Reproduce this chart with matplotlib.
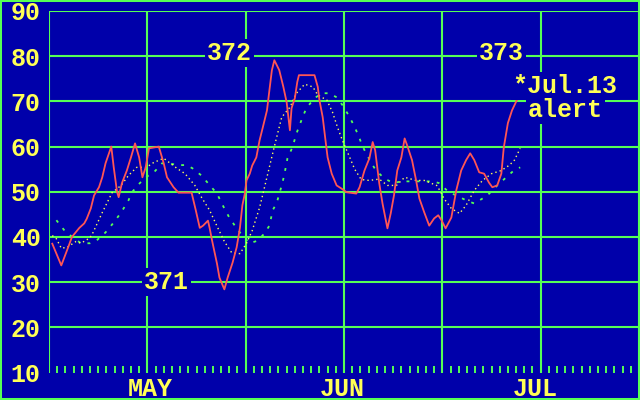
import matplotlib
matplotlib.use("Agg")
import matplotlib.pyplot as plt
from matplotlib.patches import Rectangle

BG = "#0000aa"
GREEN = "#55ff55"
YELLOW = "#ffff55"
RED = "#ff5555"

# ---- data (x in trading-day index, y in price units) ----
red_x = [0.4, 1.5, 2.4, 2.8, 3.7, 4.3, 4.6, 5.1, 5.5, 6.1, 6.5, 6.9, 7.6, 7.9, 8.3, 8.5,
         8.9, 9.5, 10.0, 10.5, 11.0, 11.4, 11.8, 12.2, 13.4, 14.0, 14.4, 15.2, 15.8, 17.4,
         17.9, 18.4, 18.8, 19.4, 19.6, 19.9, 20.5, 20.8, 21.4, 21.8, 22.4, 22.9, 23.3, 23.6,
         23.9, 24.1, 24.5, 24.8, 25.3, 25.7, 26.1, 26.6, 26.9, 27.2, 27.5, 28.1, 28.6, 29.0,
         29.4, 29.6, 30.0, 30.3, 30.5, 32.4, 32.8, 33.0, 33.4, 33.7, 34.0, 34.5, 35.1, 35.7,
         36.3, 37.5, 37.9, 38.5, 39.1, 39.5, 39.8, 40.3, 40.7, 41.3, 41.7, 42.1, 42.5, 43.0,
         43.4, 43.7, 44.3, 44.8, 45.2, 45.8, 46.4, 47.0, 47.5, 47.9, 48.4, 49.1, 49.7, 50.3,
         50.9, 51.4, 51.9, 52.5, 53.1, 53.7, 54.1, 54.7, 55.2, 55.5, 56.0, 56.5, 57.1, 57.6]
red_y = [38.5, 33.7, 38.0, 40.0, 42.0, 43.0, 44.0, 46.3, 49.2, 51.0, 53.2, 56.3, 60.0, 55.4, 50.0, 48.8,
         51.9, 54.7, 57.6, 60.7, 57.6, 53.2, 55.4, 59.6, 60.0, 56.3, 53.2, 51.0, 49.8, 49.8,
         46.0, 42.0, 42.5, 43.6, 42.0, 39.2, 34.1, 31.0, 28.4, 31.0, 34.3, 37.7, 42.0, 47.0,
         49.6, 52.5, 54.0, 55.8, 57.6, 61.4, 64.3, 68.0, 72.5, 76.9, 79.1, 76.9, 73.2, 69.8,
         63.6, 68.5, 70.7, 74.3, 75.8, 75.8, 73.2, 70.3, 66.5, 62.0, 57.6, 54.0, 51.4, 50.7,
         49.9, 49.6, 51.0, 54.7, 57.4, 61.0, 59.2, 51.9, 47.4, 41.9, 45.2, 49.2, 54.7, 57.6,
         61.8, 60.3, 57.0, 52.5, 48.5, 45.4, 42.5, 44.1, 44.8, 43.7, 41.9, 44.3, 50.3, 54.7,
         57.0, 58.5, 57.0, 54.3, 54.0, 52.0, 51.0, 51.4, 54.0, 59.8, 65.2, 68.0, 70.3, 71.2]

fast_x = [0.4, 0.9, 1.5, 2.2, 3.3, 3.9, 4.9, 5.2, 6.5, 7.7, 8.8, 9.7, 10.7, 11.9, 12.8, 14.0,
          15.6, 16.6, 17.8, 18.6, 19.6, 20.6, 21.4, 22.3, 23.3, 24.1, 24.8, 25.7, 26.7, 27.5,
          28.4, 29.4, 30.2, 31.2, 32.2, 32.8, 33.9, 34.6, 35.2, 35.8, 36.7, 37.3, 38.1, 39.1,
          40.3, 41.3, 42.4, 43.4, 44.8, 45.8, 47.3, 47.7, 48.2, 49.1, 50.1, 50.9, 51.9, 52.9,
          54.0, 55.2, 56.2, 56.8, 57.5]
fast_y = [40.3, 39.6, 37.5, 37.7, 39.0, 38.6, 39.7, 40.3, 45.4, 49.8, 51.4, 53.6, 55.4, 55.4, 56.5, 57.4,
          55.2, 54.0, 51.4, 48.8, 45.9, 42.0, 39.0, 36.5, 36.3, 38.6, 41.4, 46.5, 54.0, 60.0,
          66.5, 68.7, 71.8, 73.8, 73.2, 71.4, 70.3, 67.6, 64.3, 61.4, 57.6, 55.0, 52.7, 52.5,
          52.8, 51.4, 51.4, 53.2, 52.5, 52.5, 51.4, 50.3, 48.5, 46.3, 45.2, 47.0, 50.3, 52.5,
          54.0, 54.7, 55.9, 57.0, 59.6]

slow_x = [0.9, 1.9, 2.9, 3.9, 5.0, 5.8, 6.9, 7.9, 8.8, 9.7, 10.1, 10.8, 11.8, 12.8, 13.8, 14.6,
          15.7, 16.8, 17.5, 18.6, 19.4, 20.5, 21.2, 22.0, 22.9, 23.6, 24.5, 25.5, 26.3, 26.9,
          27.3, 27.8, 28.4, 28.7, 29.1, 29.7, 30.2, 30.8, 31.4, 32.4, 33.3, 34.2, 35.1, 35.8,
          36.7, 37.3, 37.8, 38.2, 38.7, 39.3, 39.9, 40.9, 42.0, 43.0, 44.9, 46.9, 47.6, 48.8,
          49.7, 50.9, 51.9, 52.9, 53.5, 54.7, 55.8, 56.6, 57.5]
slow_y = [43.7, 41.4, 39.9, 38.6, 38.6, 39.2, 41.0, 43.2, 45.4, 48.1, 49.8, 51.4, 53.2, 54.3, 56.3, 56.3,
          55.9, 55.9, 55.2, 53.6, 51.9, 49.6, 47.0, 44.3, 41.9, 40.3, 38.6, 39.2, 40.8, 42.5,
          45.9, 47.6, 51.4, 53.6, 57.4, 59.8, 62.9, 65.8, 68.5, 70.7, 71.8, 71.8, 70.9, 69.2,
          66.5, 64.3, 62.3, 60.3, 58.5, 56.5, 54.7, 53.0, 51.9, 52.3, 52.3, 52.3, 51.9, 49.9,
          49.2, 48.1, 47.4, 48.5, 49.2, 51.4, 53.2, 54.5, 55.4]

y_ticks = [10, 20, 30, 40, 50, 60, 70, 80, 90]
y_tick_labels = ["10", "20", "30", "40", "50", "60", "70", "80", "90"]
month_pos = [12.3, 35.8, 59.3]
month_labels = ["MAY", "JUN", "JUL"]
grid_x = [0, 12, 24, 36, 48, 60, 72]
grid_y = [20, 30, 40, 50, 60, 70, 80, 90]

notes = ["371", "372", "373", "*Jul.13", "alert"]
note_x = [14.3, 22.0, 55.2, 63.0, 63.0]
note_y = [30.0, 80.7, 80.7, 73.5, 68.0]

FONT = "Liberation Mono"
FS = 18

fig = plt.figure(figsize=(6.4, 4.0), dpi=100, facecolor=BG)
ax = fig.add_axes([49 / 640, 1 - 372.5 / 400, 590 / 640, 361.5 / 400])
ax.set_facecolor(BG)
ax.set_xlim(0, 72)
ax.set_ylim(10, 90)
for s in ax.spines.values():
    s.set_visible(False)

# grid
ax.hlines(grid_y, 0, 72, colors=GREEN, linewidth=1.5, zorder=1)
ax.vlines(grid_x, 10, 90, colors=GREEN, linewidth=1.5, zorder=1)

# series
ax.plot(slow_x, slow_y, color=GREEN, linewidth=1.3, linestyle=(0, (1.6, 4.0)),
        dash_capstyle="butt", zorder=3)
ax.plot(fast_x, fast_y, color=YELLOW, linewidth=1.0, linestyle=(0, (1.0, 2.2)),
        dash_capstyle="butt", zorder=3)
ax.plot(red_x, red_y, color=RED, linewidth=1.3, zorder=4)

# ticks
ax.set_yticks(y_ticks)
ax.set_yticklabels(y_tick_labels)
ax.set_xticks(month_pos)
ax.set_xticklabels(month_labels)
ax.set_xticks(range(1, 72), minor=True)
ax.tick_params(axis="x", which="minor", direction="in", length=5, width=1.4,
               color=GREEN, bottom=True)
ax.tick_params(axis="x", which="major", length=0, pad=3.5, colors=YELLOW)
ax.tick_params(axis="y", length=0, pad=6, colors=YELLOW)
for lab in ax.get_xticklabels() + ax.get_yticklabels():
    lab.set_fontfamily(FONT)
    lab.set_fontweight("bold")
    lab.set_fontsize(FS)
    lab.set_color(YELLOW)

# annotations
for t, x, y in zip(notes, note_x, note_y):
    ax.text(x, y, t, color=YELLOW, fontsize=FS, fontfamily=FONT, fontweight="bold",
            ha="center", va="center", zorder=5,
            bbox=dict(boxstyle="square,pad=0.08", fc=BG, ec="none"))

# outer border
fig.patches.append(Rectangle((0, 0), 1, 1, transform=fig.transFigure, fill=False,
                             edgecolor=GREEN, linewidth=2.9, zorder=10))

fig.savefig("out.png", dpi=100, facecolor=BG)
